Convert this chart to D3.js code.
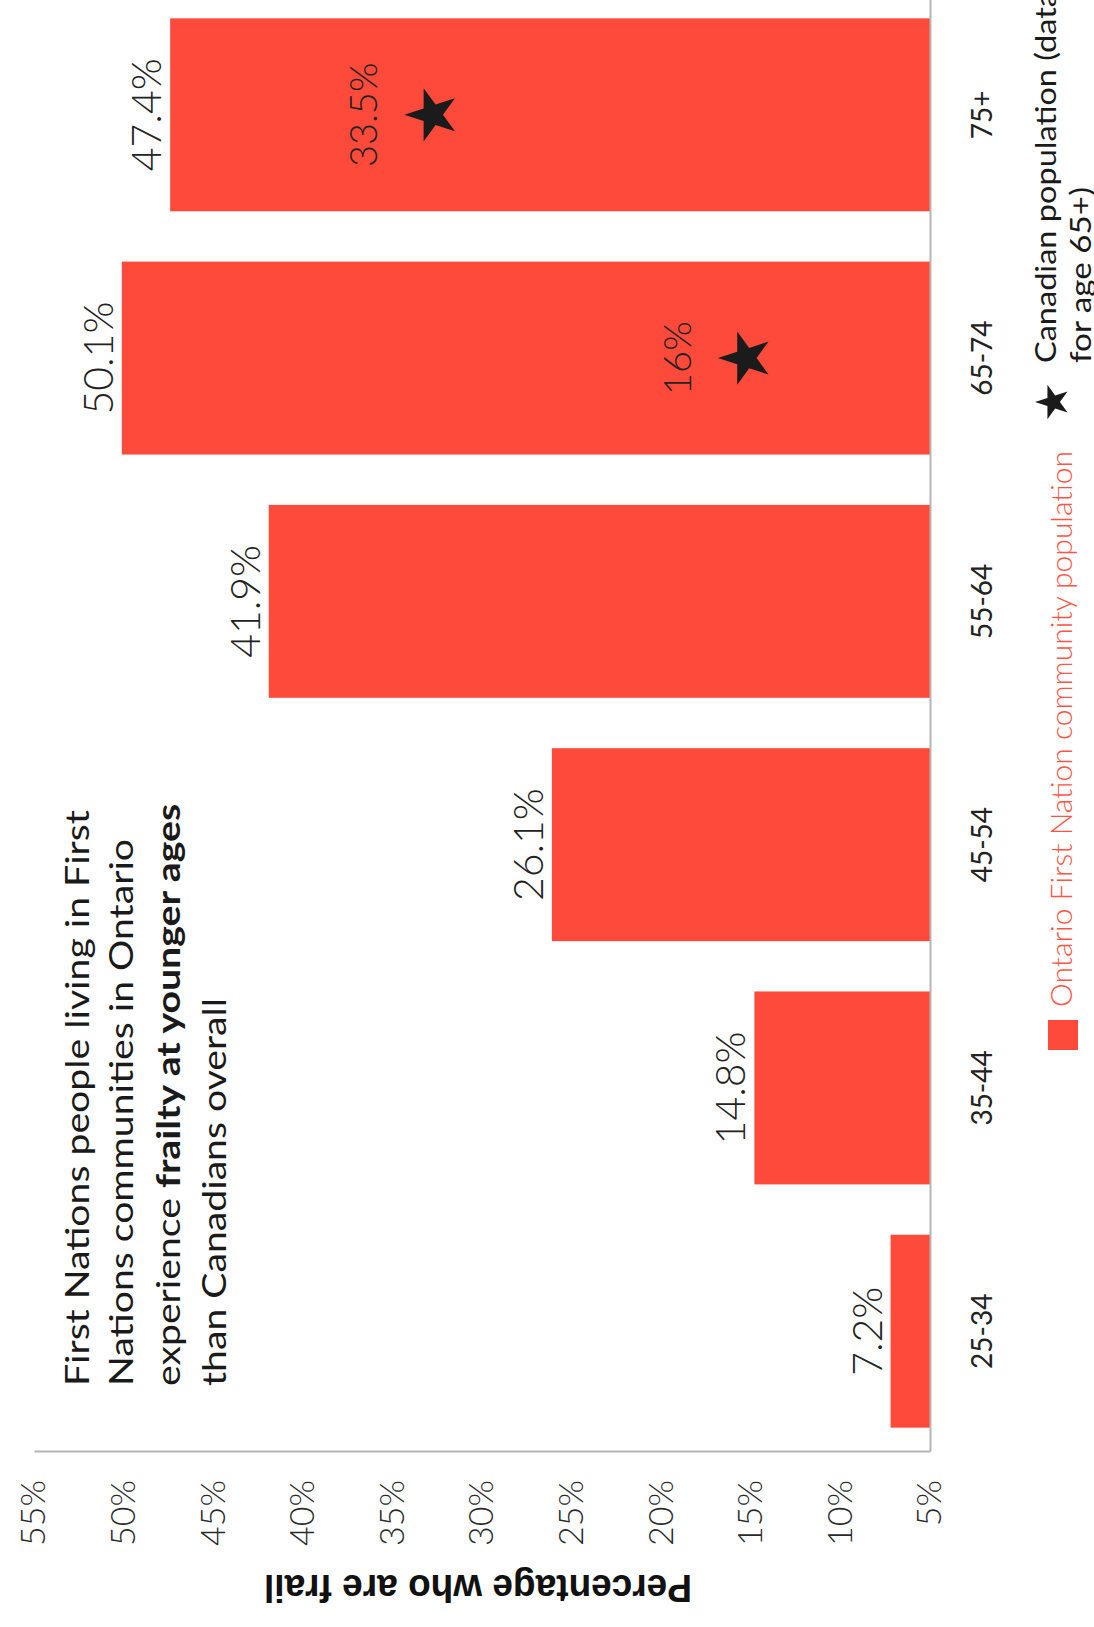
<!DOCTYPE html>
<html>
<head>
<meta charset="utf-8">
<script src="https://cdn.jsdelivr.net/npm/d3@7"></script>
<style>
  html, body { margin: 0; padding: 0; background: #fff; }
  svg { display: block; }
</style>
</head>
<body>
<svg id="chart" width="1094" height="1627"></svg>
<script>
// Age groups along the category axis
const categories = ["25-34", "35-44", "45-54", "55-64", "65-74", "75+"];
// Share of Ontario First Nation community members who are frail (%)
const firstNationValues = [7.2, 14.8, 26.1, 41.9, 50.1, 47.4];
// Canadian population reference (only available for age 65+)
const canadianCategories = ["65-74", "75+"];
const canadianValues = [16, 33.5];
// Value-axis ticks (%)
const valueTicks = [5, 10, 15, 20, 25, 30, 35, 40, 45, 50, 55];
// Headline, one entry per line; bold runs flagged
const titleLines = [
  [{ t: "First Nations people living in First", b: false }],
  [{ t: "Nations communities in Ontario", b: false }],
  [{ t: "experience ", b: false }, { t: "frailty at younger ages", b: true }],
  [{ t: "than Canadians overall", b: false }]
];
const axisTitle = "Percentage who are frail";
const legendFirstNation = "Ontario First Nation community population";
const legendCanadian = ["Canadian population (data", "for age 65+)"];

const PAGE_W = 1094, PAGE_H = 1627;
const BAR = "#fe4a3a";
const SANS = "Lato, 'Open Sans', 'Liberation Sans', sans-serif";

const svg = d3.select("#chart");
svg.append("rect").attr("width", PAGE_W).attr("height", PAGE_H).attr("fill", "#fff");

// The column chart is laid out upright, then turned a quarter-turn counter-clockwise.
const g = svg.append("g").attr("transform", `translate(0,${PAGE_H}) rotate(-90)`);

const x = d3.scaleBand()
  .domain(categories)
  .range([175, 1633])
  .paddingInner(0.207)
  .paddingOuter(0.1);

const y = d3.scaleLinear().domain([5, 55]).range([930, 34]);

// Bars
g.append("g").selectAll("rect")
  .data(categories.map((c, i) => ({ c, v: firstNationValues[i] })))
  .join("rect")
  .attr("x", d => x(d.c))
  .attr("y", d => y(d.v))
  .attr("width", x.bandwidth())
  .attr("height", d => y(5) - y(d.v))
  .attr("fill", BAR);

// Value axis
const yAxis = d3.axisLeft(y)
  .tickValues(valueTicks)
  .tickFormat(d => d + "%")
  .tickSize(0)
  .tickSizeOuter(0)
  .tickPadding(28);
const yg = g.append("g").attr("transform", "translate(175,0)").call(yAxis);
yg.select(".domain").attr("stroke", "#b5b5b5").attr("stroke-width", 2);
yg.selectAll("text")
  .attr("font-family", SANS)
  .attr("font-weight", 300)
  .attr("font-size", 34)
  .attr("fill", "#2a2a2a");

// Category axis
const xAxis = d3.axisBottom(x).tickSize(0).tickSizeOuter(0).tickPadding(42);
const xg = g.append("g").attr("transform", "translate(0,930)").call(xAxis);
xg.select(".domain").attr("stroke", "#b5b5b5").attr("stroke-width", 2);
xg.selectAll("text")
  .attr("font-family", SANS)
  .attr("font-size", 28)
  .attr("fill", "#222");

// Value labels above bars
g.append("g").selectAll("text")
  .data(categories.map((c, i) => ({ c, v: firstNationValues[i] })))
  .join("text")
  .attr("x", d => x(d.c) + x.bandwidth() / 2)
  .attr("y", d => y(d.v) - 9)
  .attr("text-anchor", "middle")
  .attr("font-family", SANS)
  .attr("font-weight", 300)
  .attr("font-size", 41)
  .attr("fill", "#222")
  .text(d => d.v + "%");

// Canadian reference stars with their labels
const star = d3.symbol(d3.symbolStar, 880);
const canadian = canadianCategories.map((c, i) => ({ c, v: canadianValues[i] }));
g.append("g").selectAll("path")
  .data(canadian)
  .join("path")
  .attr("d", star)
  .attr("transform", d => `translate(${x(d.c) + x.bandwidth() / 2},${y(d.v) + 13})`)
  .attr("fill", "#1b1b1b");
g.append("g").selectAll("text")
  .data(canadian)
  .join("text")
  .attr("x", d => x(d.c) + x.bandwidth() / 2)
  .attr("y", d => y(d.v) - 42)
  .attr("text-anchor", "middle")
  .attr("font-family", SANS)
  .attr("font-weight", 300)
  .attr("font-size", 38)
  .attr("fill", "#222")
  .text(d => d.v + "%");

// Value-axis title
g.append("text")
  .attr("transform", "translate(52,478) rotate(-90)")
  .attr("text-anchor", "middle")
  .attr("font-family", "'Liberation Sans', Arial, sans-serif")
  .attr("font-weight", 700)
  .attr("font-size", 38)
  .attr("textLength", 428)
  .attr("lengthAdjust", "spacingAndGlyphs")
  .attr("fill", "#111")
  .text(axisTitle);

// Headline
const title = g.append("g").attr("font-family", SANS).attr("font-size", 33).attr("fill", "#1a1a1a");
const baselines = [89, 133, 180, 226];
titleLines.forEach((line, i) => {
  const t = title.append("text").attr("x", 0).attr("y", baselines[i]);
  line.forEach(seg => t.append("tspan").attr("font-weight", seg.b ? 700 : 400).text(seg.t));
});
const firstLen = title.select("text").node().getComputedTextLength();
title.attr("transform", `translate(241,0) scale(${576 / firstLen},1)`);

// Legend
const legend = g.append("g");
legend.append("rect")
  .attr("x", 577).attr("y", 1048).attr("width", 30).attr("height", 30)
  .attr("fill", BAR);
legend.append("text")
  .attr("x", 620).attr("y", 1072)
  .attr("font-family", SANS)
  .attr("font-weight", 300)
  .attr("font-size", 29)
  .attr("textLength", 556)
  .attr("lengthAdjust", "spacingAndGlyphs")
  .attr("fill", "#ff5446")
  .text(legendFirstNation);
legend.append("path")
  .attr("d", d3.symbol(d3.symbolStar, 364))
  .attr("transform", "translate(1225,1053)")
  .attr("fill", "#1b1b1b");
legend.append("text")
  .attr("x", 1264).attr("y", 1056)
  .attr("font-family", SANS)
  .attr("font-size", 29)
  .attr("textLength", 372)
  .attr("lengthAdjust", "spacingAndGlyphs")
  .attr("fill", "#1a1a1a")
  .text(legendCanadian[0]);
legend.append("text")
  .attr("x", 1264).attr("y", 1091)
  .attr("font-family", SANS)
  .attr("font-size", 29)
  .attr("textLength", 176)
  .attr("lengthAdjust", "spacingAndGlyphs")
  .attr("fill", "#1a1a1a")
  .text(legendCanadian[1]);
</script>
</body>
</html>
